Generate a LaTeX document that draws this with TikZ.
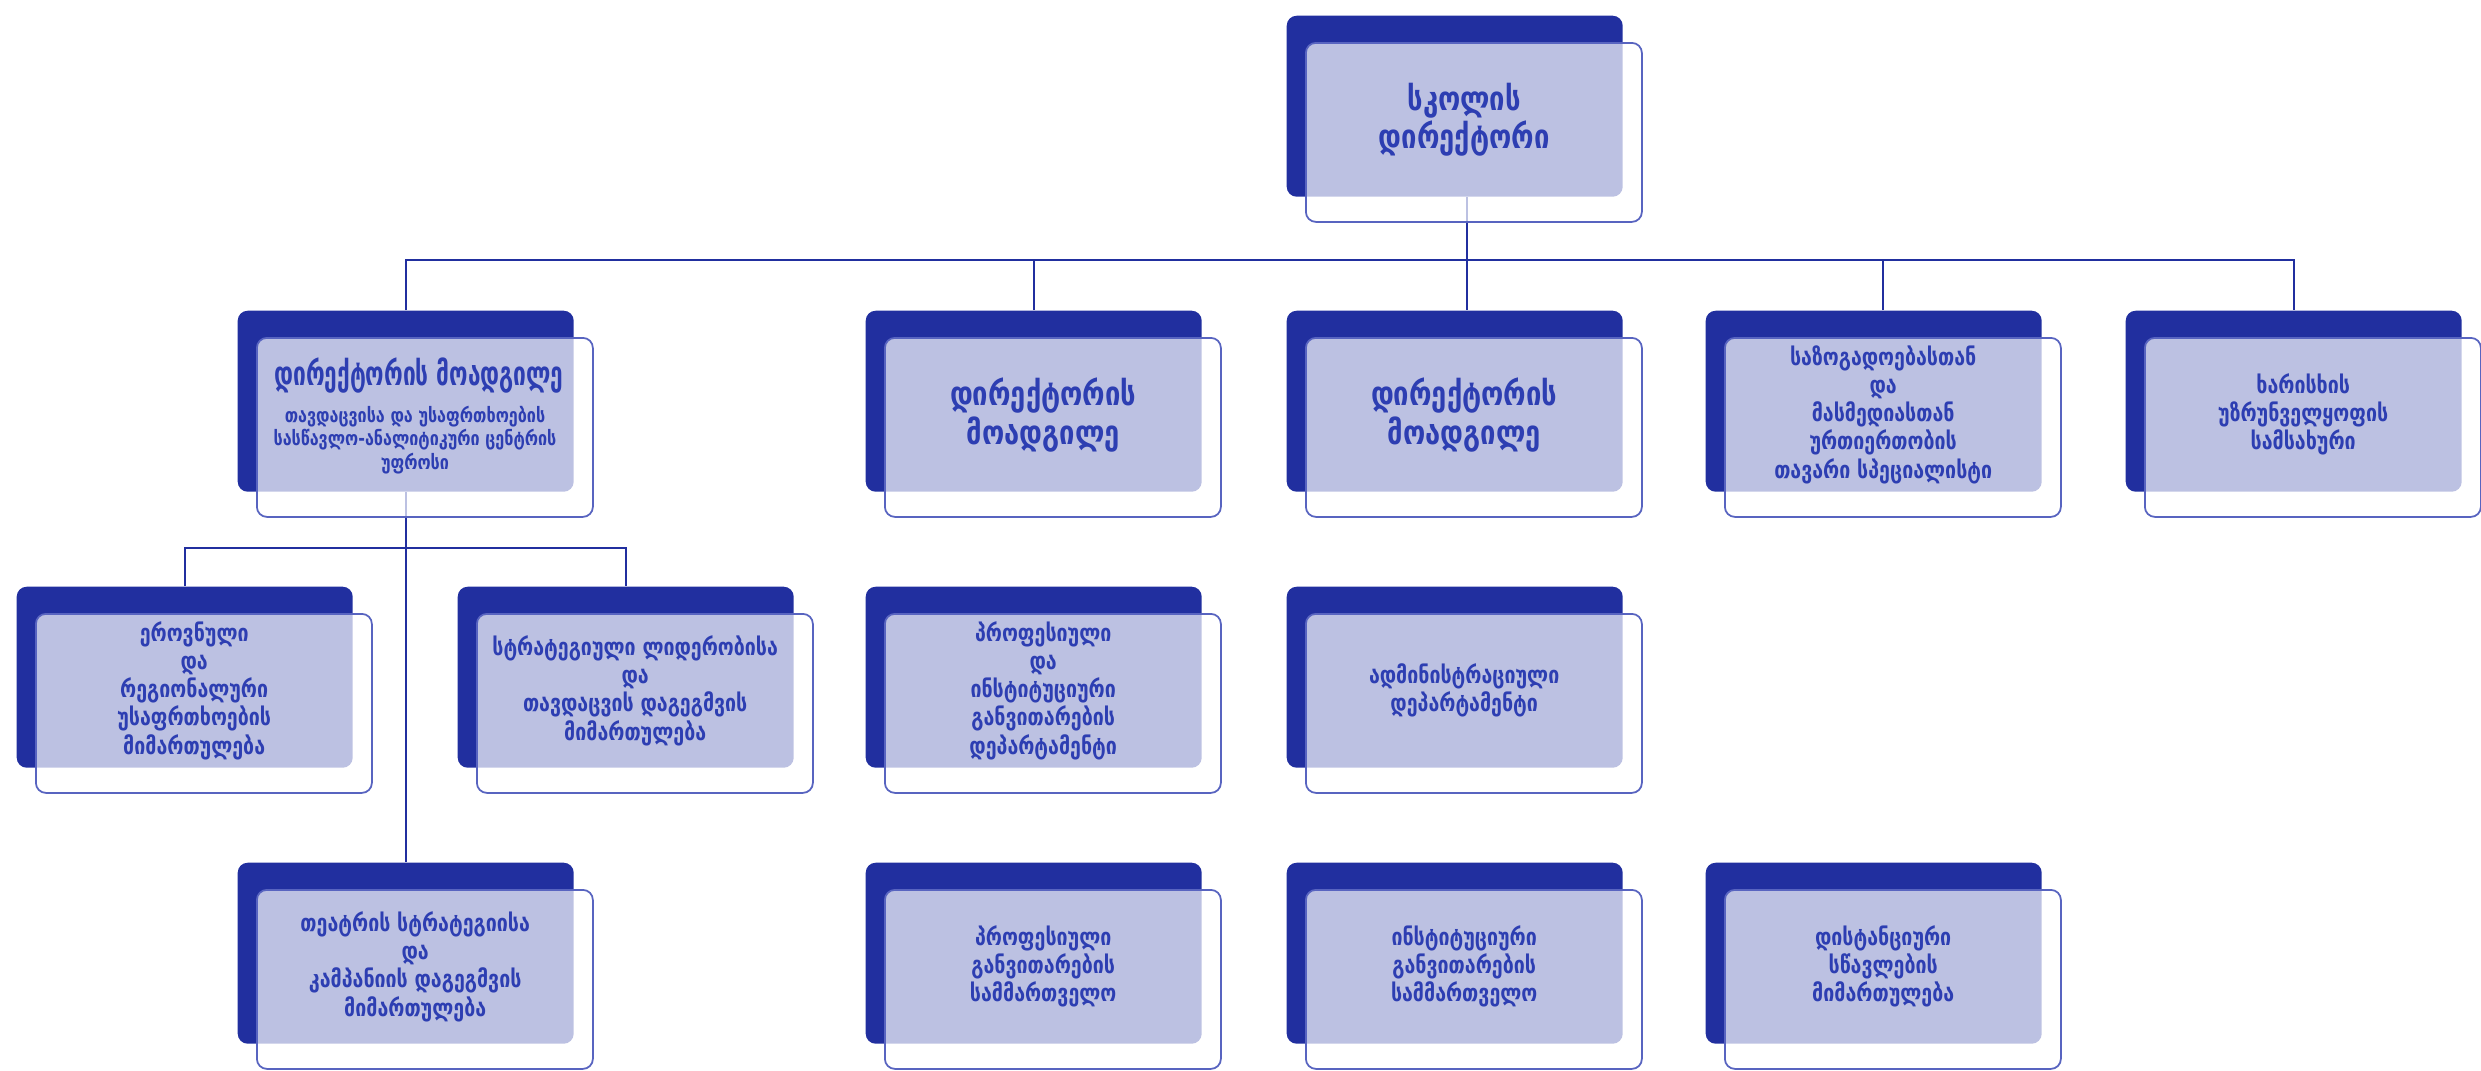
\documentclass[tikz,border=0pt]{standalone}
\usepackage{fontspec}
\newfontfamily\geofont{DejaVu Sans}[FakeStretch=0.82]
\newfontfamily\geonarrow{DejaVu Sans}[FakeStretch=0.68]
\definecolor{unitblue}{RGB}{33,47,159}
\definecolor{frameblue}{RGB}{88,100,192}
\definecolor{textblue}{RGB}{45,62,178}
\pgfdeclarelayer{background}
\pgfsetlayers{background,main}
\def\unitsBig{{(12.86,-0.15)/dir/{სკოლის\\დირექტორი}}, {(8.65,-3.10)/depB/{დირექტორის\\მოადგილე}}, {(12.86,-3.10)/depC/{დირექტორის\\მოადგილე}}}
\def\unitsSmall{{(17.05,-3.10)/pr/{საზოგადოებასთან\\და\\მასმედიასთან\\ურთიერთობის\\თავარი სპეციალისტი}}, {(21.25,-3.10)/qa/{ხარისხის\\უზრუნველყოფის\\სამსახური}}, {(0.16,-5.86)/natsec/{ეროვნული\\და\\რეგიონალური\\უსაფრთხოების\\მიმართულება}}, {(4.57,-5.86)/strat/{სტრატეგიული ლიდერობისა\\და\\თავდაცვის დაგეგმვის\\მიმართულება}}, {(8.65,-5.86)/profdep/{პროფესიული\\და\\ინსტიტუციური\\განვითარების\\დეპარტამენტი}}, {(12.86,-5.86)/admin/{ადმინისტრაციული\\დეპარტამენტი}}, {(2.37,-8.62)/theatre/{თეატრის სტრატეგიისა\\და\\კამპანიის დაგეგმვის\\მიმართულება}}, {(8.65,-8.62)/profdiv/{პროფესიული\\განვითარების\\სამმართველო}}, {(12.86,-8.62)/instdiv/{ინსტიტუციური\\განვითარების\\სამმართველო}}, {(17.05,-8.62)/distance/{დისტანციური\\სწავლების\\მიმართულება}}}
\tikzstyle{unit}=[rectangle,rounded corners=1mm,fill=unitblue,minimum width=3.36cm,minimum height=1.81cm,anchor=north west,inner sep=0pt]
\tikzstyle{unit-front}=[rectangle,rounded corners=1mm,draw=frameblue,line width=0.5pt,fill=white,fill opacity=0.7,minimum width=3.36cm,minimum height=1.79cm,anchor=north west,inner sep=0pt]
\tikzstyle{big-text}=[align=center,text=textblue,font=\geofont\bfseries\fontsize{9.5}{11}\selectfont]
\tikzstyle{title-text}=[align=center,text=textblue,font=\geonarrow\bfseries\fontsize{9.5}{11}\selectfont]
\tikzstyle{small-text}=[align=center,text=textblue,font=\geofont\bfseries\fontsize{6.8}{8}\selectfont]
\tikzstyle{sub-text}=[align=center,text=textblue,font=\geofont\bfseries\fontsize{5.6}{6.6}\selectfont]
\tikzstyle{link}=[draw,line width=0.6pt,unitblue]

\begin{document}
\begin{tikzpicture}
  \useasboundingbox (0,0) rectangle (24.81,-10.70);

  % Units with the large labels
  \foreach \pos/\name/\txt in \unitsBig {
    \node[unit] (\name) at \pos {};
    \node[unit-front] (\name-f) at ([shift={(0.19,-0.27)}]\name.north west) {};
    \node[big-text] (\name-t) at ([shift={(0.095,-0.135)}]\name.center) {\txt};
    }

  % Units with the small labels
  \foreach \pos/\name/\txt in \unitsSmall {
    \node[unit] (\name) at \pos {};
    \node[unit-front] (\name-f) at ([shift={(0.19,-0.27)}]\name.north west) {};
    \node[small-text] (\name-t) at ([shift={(0.095,-0.135)}]\name.center) {\txt};
    }

  % The deputy with the centre
  \node[unit] (depA) at (2.37,-3.10) {};
  \node[unit-front] (depA-f) at ([shift={(0.19,-0.27)}]depA.north west) {};
  \node[title-text] (depA-t) at (4.19,-3.76) {დირექტორის მოადგილე};
  \node[sub-text] (depA-s) at (4.15,-4.40) {თავდაცვისა და უსაფრთხოების\\სასწავლო-ანალიტიკური ცენტრის\\უფროსი};

  % Connections behind the units
  \begin{pgfonlayer}{background}
    \path[link] ([xshift=1.2mm]dir.south) -- ([xshift=1.2mm]depC.north);
    \path[link] (depA.north) -- ++(0,0.5) -| (qa.north);
    \path[link] (depB.north) -- ++(0,0.5);
    \path[link] ([xshift=0.9mm]pr.north) -- ++(0,0.5);
    \path[link] (depA.south) -- (theatre.north);
    \path[link] (natsec.north) -- ++(0,0.38) -| (strat.north);
  \end{pgfonlayer}
\end{tikzpicture}
\end{document}
